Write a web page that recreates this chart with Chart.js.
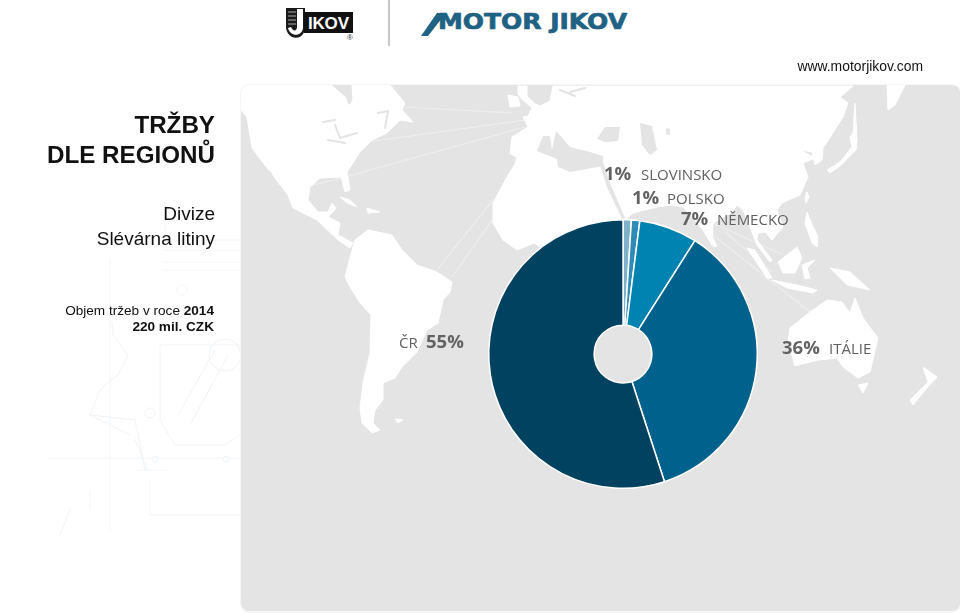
<!DOCTYPE html>
<html lang="cs">
<head>
<meta charset="utf-8">
<title>Tržby dle regionů</title>
<script src="https://cdn.jsdelivr.net/npm/chart.js@4"></script>
<style>
  html, body { margin: 0; padding: 0; background: #fff; }
  #page { position: relative; width: 960px; height: 614px; overflow: hidden; font-family: "Liberation Sans", Arial, sans-serif; color: #111; }
  #bg, #graf { position: absolute; left: 0; top: 0; }
  .txt { position: absolute; right: 745px; white-space: nowrap; text-align: right; }
  .pct, .nazev { position: absolute; white-space: nowrap; font-family: "Open Sans", sans-serif; color: #5f5f5f; line-height: 20px; }
  .pct { font-weight: 700; font-size: 18.5px; color: #636363; }
  .nazev { font-size: 15px; }
</style>
</head>
<body>
<div id="page">
  <svg id="bg" width="960" height="614" xmlns="http://www.w3.org/2000/svg">
    <!-- technicky vykres v pozadi vlevo -->
    <g fill="none" stroke="#f1f4f7" stroke-width="1">
      <path d="M165 200V240M165 240H240M165 250H240M165 262H240M165 270H240M110 260V530"/>
      <path d="M47 458H240M90 415L130 435M135 440L148 470M135 470H168"/>
      <path d="M113 335L128 355L118 375L105 385L100 390L90 415L135 420L145 470M113 335L112 322"/>
      <path d="M160 345H240M160 345V420L175 445H225L240 435M178 415L215 350M190 425L228 355"/>
      <circle cx="225" cy="355" r="16"/><circle cx="182" cy="290" r="5"/><circle cx="155" cy="459" r="3"/><circle cx="226" cy="459" r="3"/><circle cx="150" cy="413" r="5"/>
      <path d="M150 480V515H240M90 490V510M70 510L60 535"/>
    </g>
    <!-- panel s mapou -->
    <rect x="240" y="84" width="721" height="529" rx="9" fill="#f6f6f6"/>
    <rect x="241" y="85" width="719" height="526" rx="8" fill="#e4e4e4"/>
    <clipPath id="panel"><rect x="241" y="85" width="719" height="526" rx="8"/></clipPath>
    <g clip-path="url(#panel)">
      <!-- spojnice -->
      <g stroke="#eeeeee" stroke-width="1.2" fill="none">
        <path d="M405 107L512 113M367 142L525 120M345 177L525 127M310 186L345 177M437 270L493 200M452 277L492 220"/>
        <path d="M713 235L810 312M713 223L783 255M725 232L772 272"/>
      </g>
      <g fill="#ffffff" stroke="#ffffff" stroke-width="1" stroke-linejoin="round">
        <!-- Severni a stredni Amerika -->
        <path d="M241 85H331L345 97L349 106L353 100L352 85H390L405 103L402 110L413 122L400 120L387 133L372 140L360 152L347 172L350 190L345 192L341 177L320 178L310 187L308 200L318 212L328 212L332 203L336 208L333 212L328 217L340 223L338 235L353 243L350 248L338 240L317 220L293 208L288 195L267 168L252 148L247 117L241 110Z"/>
        <!-- Jizni Amerika -->
        <path d="M355 240L368 230L392 235L402 250L417 265L437 272L452 282L450 292L443 300L438 323L427 330L417 352L402 367L395 378L383 383L383 400L375 410L373 423L380 430L372 433L362 423L360 408L363 383L370 353L371 315L360 303L350 287L345 277L350 257Z"/>
        <!-- Evropa, Asie, Afrika -->
        <path d="M518 86H527V96L535 104L540 106L550 101L553 86H853L840 97L848 103L843 117L823 148L822 160L815 165L812 152L800 150L815 158L803 163L808 177L800 195L793 198L782 203L777 210L783 227L772 240L765 232L758 233L757 240L772 260L770 262L757 245L748 222L743 210L737 205L732 212L713 223L712 245L703 230L683 207L670 205L657 207L633 213L625 220L623 300L600 260L545 250L534 243L517 250L503 240L493 223L493 203L507 177L515 164L517 157L510 154L512 137L528 127L523 117L528 116L532 108L523 100L518 94Z"/>
        <!-- ostrovy -->
        <path d="M508 95L518 97L520 106L510 107Z"/>
        <path d="M340 197L350 200L357 207L347 203ZM367 208L380 212L368 213Z"/>
        <path d="M807 192L809 197L806 203L805 198ZM827 170L840 162L852 147L850 137L853 133L855 103L857 140L856 150L840 166L830 173Z"/>
        <path d="M887 85H905L895 105L888 110Z"/>
        <path d="M807 212L811 222L818 237L817 247L812 243L805 223Z"/>
        <path d="M747 248L755 250L772 278L767 278ZM772 280L797 285L817 290L813 293L787 288ZM778 262L797 247L802 258L795 273L783 273ZM802 265L815 260L807 268L810 278L805 279Z"/>
        <path d="M830 268L850 272L870 290L847 285L840 278Z"/>
        <!-- Australie, Tasmanie, Novy Zeland -->
        <path d="M790 328L810 312L827 300L842 302L850 313L855 298L863 318L878 338L870 372L858 378L843 367L837 358L818 360L795 366L788 342Z"/>
        <path d="M858 385L868 383L863 393Z"/>
        <path d="M923 367L937 377L927 388L913 405L910 400L928 382Z"/>
        <path d="M395 419L403 420L398 423Z"/>
        <path d="M713 238L717 246L713 247Z"/>
      </g>
      <!-- vnitrozemska more -->
      <g fill="#e4e4e4">
        <path d="M537 151L543 136L550 136L552 150L556 131L570 147L590 152L603 156L603 166L570 172L558 167L557 159Z"/>
        <path d="M597 139L605 127L620 127L618 141L605 142Z"/>
        <path d="M640 123L652 126L657 150L650 155L642 145Z"/>
        <path d="M666 128L670 129L670 135L666 134Z"/>
        <path d="M603 162L610 183L625 218L622 219L607 187L600 165Z"/>
      </g>
      <g fill="none" stroke="#e4e4e4" stroke-width="2" stroke-linecap="round">
        <path d="M323 122L335 120M335 125L340 138L357 133M345 143L328 140"/>
        <path d="M270 172L282 197"/>
        <path d="M378 113L388 111L385 128"/>
        <path d="M560 90L575 96M585 88L570 92"/>
      </g>
    </g>
    <!-- loga -->
    <path d="M286 8H305V28C304 41 288 41 286 28Z" fill="#1a1a1a"/>
    <path d="M288 12H296M288 16H296M288 20H296M288 24H296" stroke="#aaa" stroke-width="1"/>
    <path d="M297 9H303V28C302 37 290 37 288 28L291 27C293 32 297 31 297 27Z" fill="#fff"/>
    <rect x="304" y="12" width="49" height="21" fill="#111"/>
    <text x="308" y="29" font-family="Liberation Sans" font-weight="700" font-size="17" fill="#fff" textLength="41" lengthAdjust="spacing">IKOV</text>
    <text x="347" y="40" font-family="Liberation Sans" font-size="8" fill="#333">®</text>
    <rect x="388" y="0" width="2" height="46" fill="#c8c8c8"/>
    <path d="M421 36H428L446 13H437Z" fill="#1f6283"/>
    <text x="438" y="29" font-family="DejaVu Sans" font-weight="700" font-size="22" fill="#1f6283" stroke="#1f6283" stroke-width="0.7" textLength="189" lengthAdjust="spacingAndGlyphs">MOTOR JIKOV</text>
  </svg>
  <canvas id="graf" width="960" height="614"></canvas>
  <div class="txt" style="right:37px;top:57px;font-size:13.9px;line-height:18px">www.motorjikov.com</div>
  <div class="txt" style="top:110px;font-size:24.2px;line-height:30px;font-weight:700">TRŽBY<br>DLE REGIONŮ</div>
  <div class="txt" style="top:201px;font-size:19px;line-height:25px">Divize<br>Slévárna litiny</div>
  <div class="txt" style="right:746px;top:303px;font-size:13.6px;line-height:16px">Objem tržeb v roce <b>2014</b><br><b>220 mil. CZK</b></div>
</div>
<script>
// Tržby dle regionů 2014, po směru hodinových ručiček od vrcholu
const regiony = ['SLOVINSKO', 'POLSKO', 'NĚMECKO', 'ITÁLIE', 'ČR'];
const podily = [1, 1, 7, 36, 55];
const barvy = ['#7fb2ca', '#2e8ab6', '#0083b1', '#00628c', '#004260'];

// levý okraj procent, levý okraj názvu a účaří popisku
const polohyPopisku = [
    [604, 641, 179],
    [632, 667, 203],
    [681, 717, 224],
    [782, 829, 353],
    [426, 399, 347]
];

const page = document.getElementById('page');
regiony.forEach(function (nazev, i) {
    const p = polohyPopisku[i];
    const pct = document.createElement('span');
    pct.className = 'pct';
    pct.textContent = podily[i] + '%';
    pct.style.left = p[0] + 'px';
    pct.style.top = (p[2] - 16) + 'px';
    const jm = document.createElement('span');
    jm.className = 'nazev';
    jm.textContent = nazev;
    jm.style.left = p[1] + 'px';
    jm.style.top = (p[2] - 15) + 'px';
    page.appendChild(pct);
    page.appendChild(jm);
});

new Chart(document.getElementById('graf').getContext('2d'), {
    type: 'doughnut',
    data: {
        labels: regiony,
        datasets: [{
            data: podily,
            backgroundColor: barvy,
            borderColor: '#ffffff',
            borderWidth: 1.5
        }]
    },
    options: {
        responsive: false,
        animation: false,
        cutout: '21.5%',
        layout: { padding: { left: 488, right: 202, top: 219, bottom: 125 } },
        plugins: { legend: { display: false }, tooltip: { enabled: false } }
    }
});
</script>
</body>
</html>
